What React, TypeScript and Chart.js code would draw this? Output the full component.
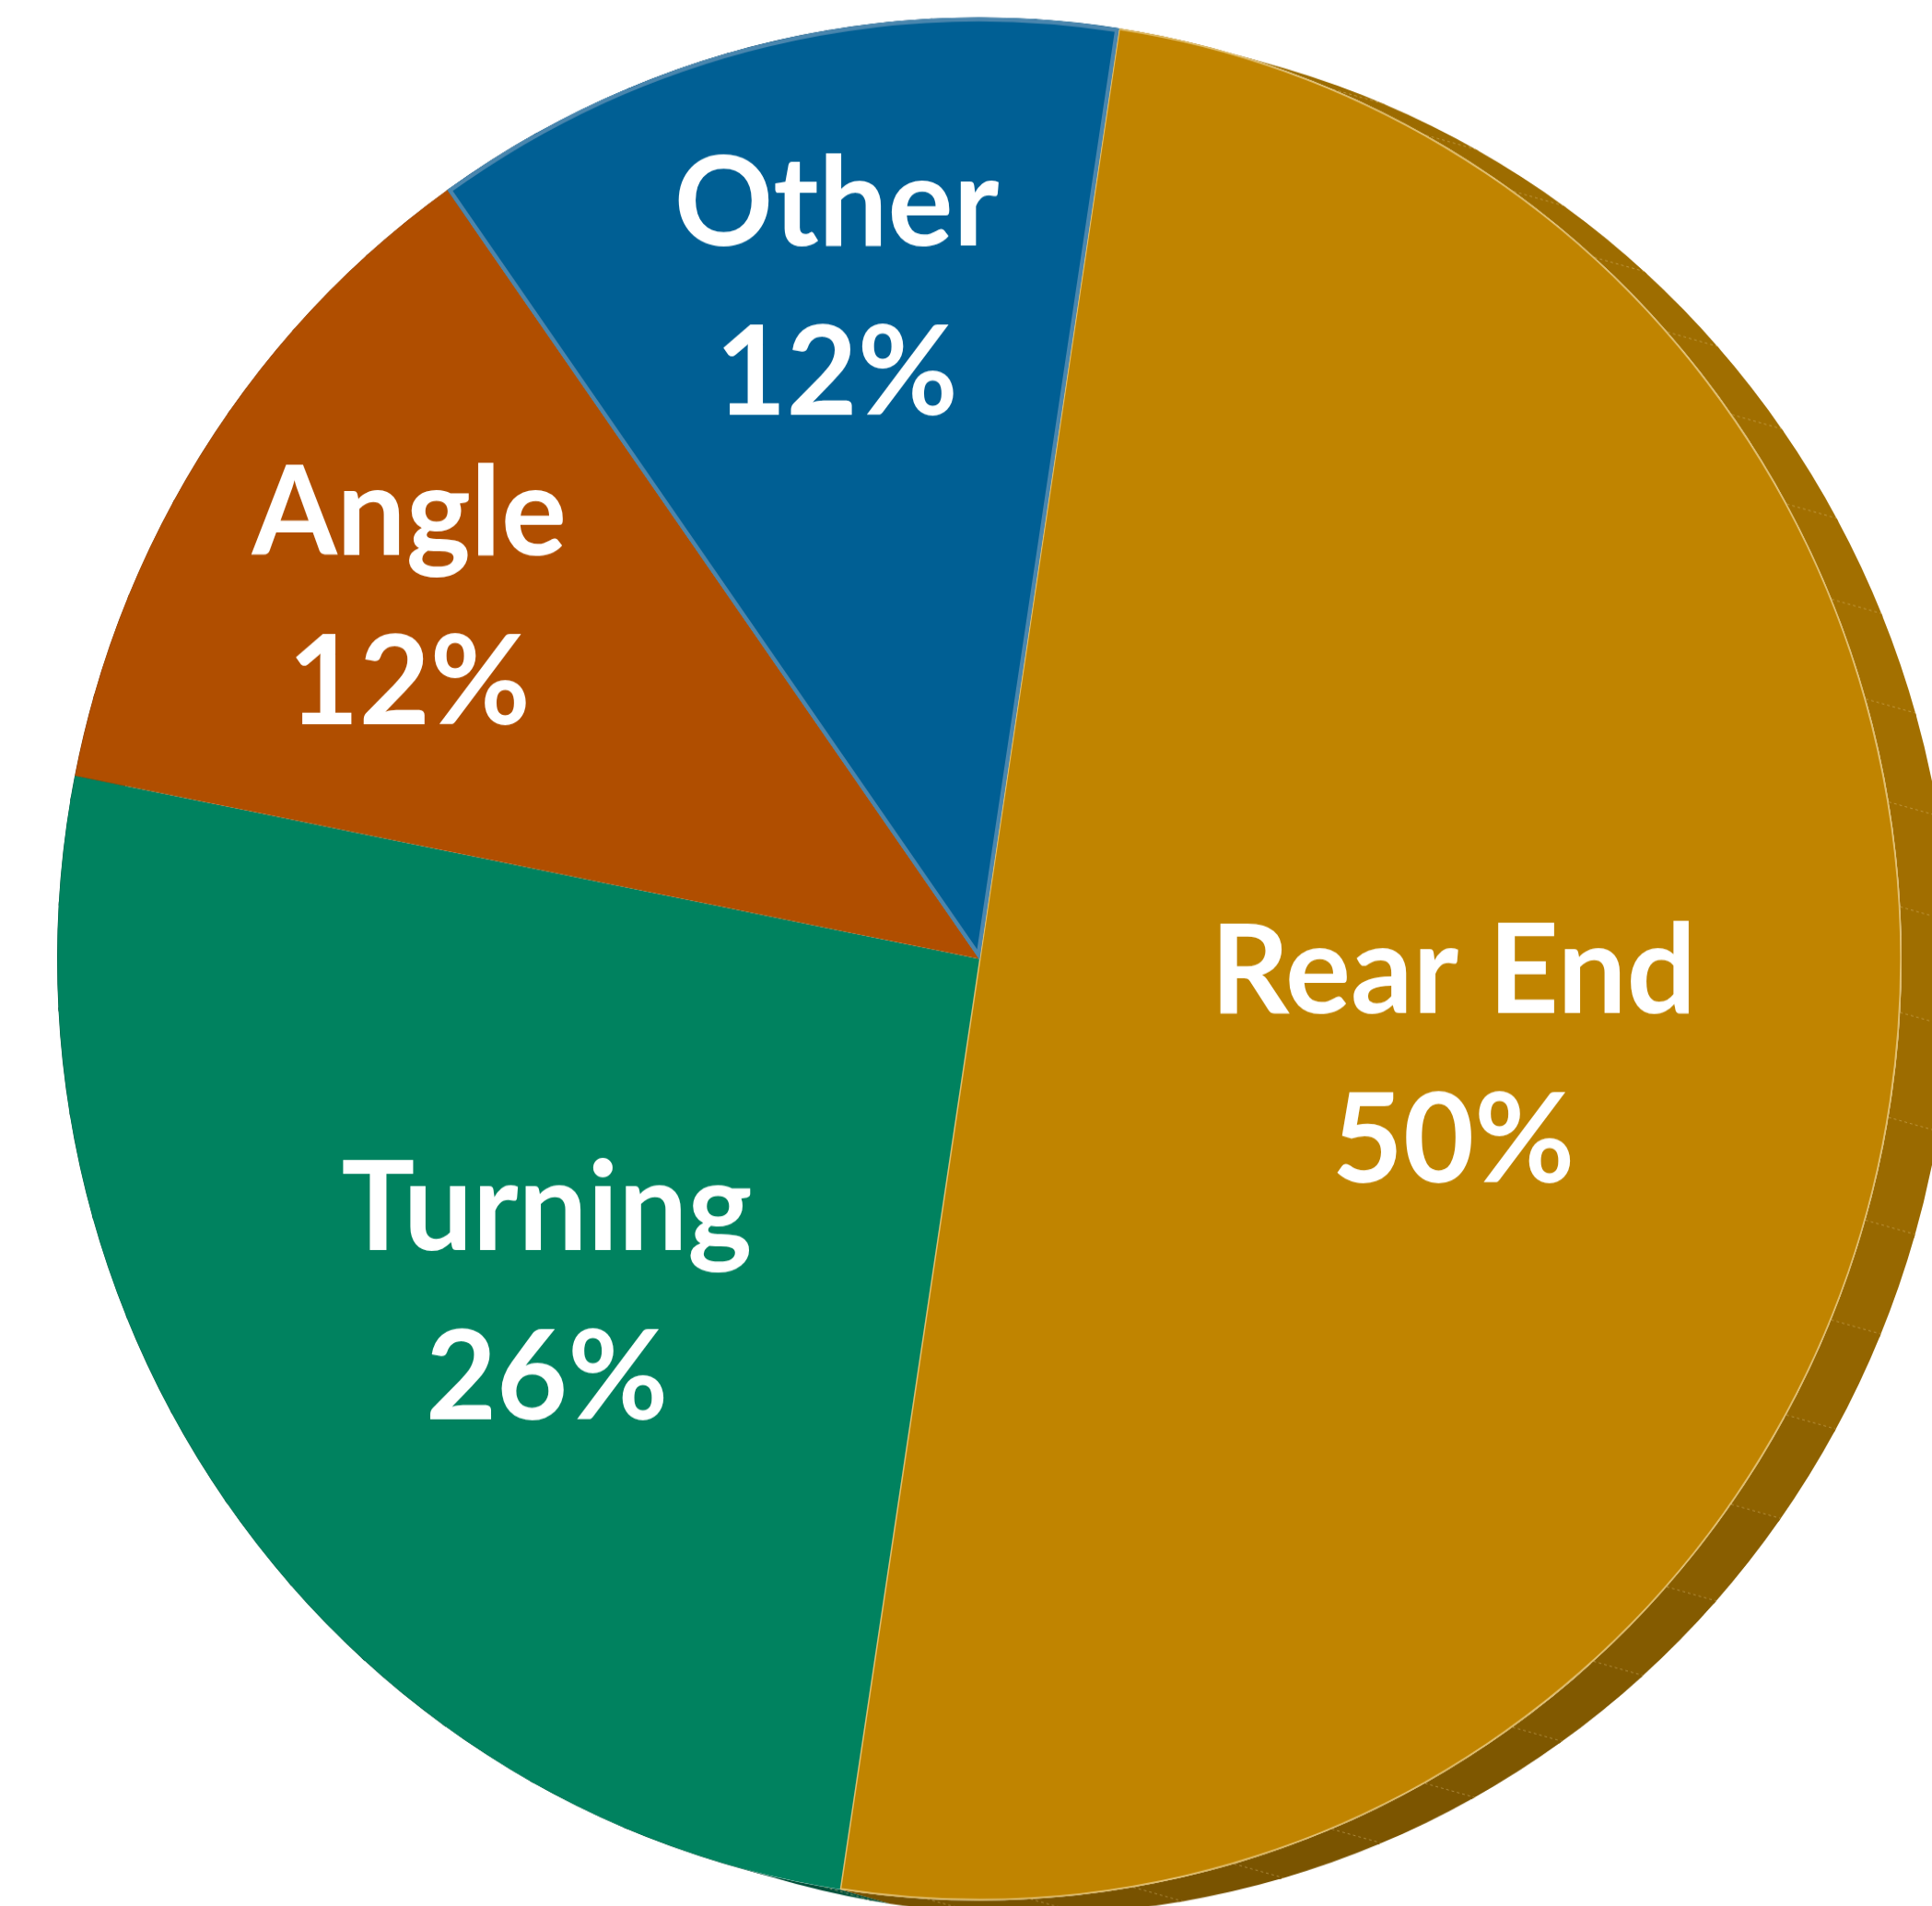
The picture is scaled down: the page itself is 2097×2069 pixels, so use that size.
import React, { useEffect, useRef } from "react";
import { Chart, registerables } from "chart.js";

Chart.register(...registerables);

// ---- data ----
const categories = ["Rear End", "Turning", "Angle", "Other"];
const shares = [50.0, 25.7, 12.1, 12.2];
const sliceColors = ["#C08400", "#00825F", "#B04E00", "#005F94"];
const sliceBorderColors = ["rgba(228,196,120,0.9)", "rgba(0,0,0,0)", "rgba(0,0,0,0)", "#4A86AE"];
const sliceBorderWidths = [1.5, 0, 0, 4];
const labelRadiusFractions = [0.5236, 0.586, 0.729, 0.732];
const labelAngleOffsets = [2.3, -1.8, -1.0, 1.05];

const W = 2097;
const H = 2069;
const SY = 1.021; // slight vertical stretch of the tilted pie face

function hexToRgb(hex: string) {
  const h = hex.replace("#", "");
  return [parseInt(h.slice(0, 2), 16), parseInt(h.slice(2, 4), 16), parseInt(h.slice(4, 6), 16)];
}
function shade(hex: string, f: number) {
  const [r, g, b] = hexToRgb(hex);
  return `rgb(${Math.round(r * f)},${Math.round(g * f)},${Math.round(b * f)})`;
}
// lighting of the extruded side, by angle clockwise from top (deg)
const lightStops: [number, number][] = [
  [0, 0.8], [40, 0.82], [70, 0.85], [90, 0.83], [105, 0.8], [120, 0.75],
  [135, 0.69], [150, 0.65], [170, 0.625], [200, 0.61], [360, 0.61],
];
function lightFactor(deg: number) {
  const d = ((deg % 360) + 360) % 360;
  for (let i = 0; i < lightStops.length - 1; i++) {
    const [a0, f0] = lightStops[i];
    const [a1, f1] = lightStops[i + 1];
    if (d >= a0 && d <= a1) return f0 + ((f1 - f0) * (d - a0)) / (a1 - a0);
  }
  return 0.7;
}

const extrusionPlugin = {
  id: "extrusion",
  beforeDatasetsDraw(chart: any, _args: any, opts: any) {
    const meta = chart.getDatasetMeta(0);
    const ctx = chart.ctx as CanvasRenderingContext2D;
    const dx = opts.dx, dy = opts.dy;
    const step = (2 * Math.PI) / opts.facets;
    const a0 = ((opts.facetStart - 90) * Math.PI) / 180;
    const colors = chart.data.datasets[0].backgroundColor;
    ctx.save();
    let cx = 0, cy = 0, r = 0;
    meta.data.forEach((arc: any, i: number) => {
      const p = arc.getProps(["x", "y", "startAngle", "endAngle", "outerRadius"], true);
      cx = p.x; cy = p.y; r = p.outerRadius;
      let a = p.startAngle;
      while (a < p.endAngle - 1e-7) {
        const k = Math.floor((a - a0) / step + 1e-9) + 1;
        const next = a0 + k * step;
        const b = Math.min(next, p.endAngle);
        const bb = b < p.endAngle ? b + 0.004 : b;
        const mid = (a + b) / 2;
        const deg = (mid * 180) / Math.PI + 90;
        ctx.beginPath();
        ctx.arc(cx, cy, r, a, bb);
        ctx.lineTo(cx + dx + r * Math.cos(bb), cy + dy + r * Math.sin(bb));
        ctx.arc(cx + dx, cy + dy, r, bb, a, true);
        ctx.closePath();
        ctx.fillStyle = shade(colors[i], lightFactor(deg));
        ctx.fill();
        a = b;
      }
    });
    // faint facet seams, one per facet boundary
    ctx.strokeStyle = "rgba(235,205,140,0.4)";
    ctx.lineWidth = 1;
    ctx.setLineDash([3, 3]);
    for (let k = 0; k < opts.facets; k++) {
      const a = a0 + k * step;
      const nd = dx * Math.cos(a) + dy * Math.sin(a);
      if (nd <= 4) continue;
      const x1 = cx + r * Math.cos(a), y1 = cy + r * Math.sin(a);
      ctx.beginPath();
      ctx.moveTo(x1, y1);
      ctx.lineTo(x1 + dx, y1 + dy);
      ctx.stroke();
    }
    ctx.restore();
  },
};

const sliceLabelPlugin = {
  id: "sliceLabels",
  afterDatasetsDraw(chart: any, _args: any, opts: any) {
    const meta = chart.getDatasetMeta(0);
    const ctx = chart.ctx as CanvasRenderingContext2D;
    const data: number[] = chart.data.datasets[0].data;
    const total = data.reduce((s, v) => s + v, 0);
    const size = opts.size;
    const cap = 0.717 * size;
    const gap = opts.lineGap;
    ctx.save();
    ctx.fillStyle = "#FFFFFF";
    ctx.textAlign = "center";
    ctx.textBaseline = "alphabetic";
    ctx.font = `bold ${size}px Lato, "Open Sans", sans-serif`;
    meta.data.forEach((arc: any, i: number) => {
      const p = arc.getProps(["x", "y", "startAngle", "endAngle", "outerRadius"], true);
      const mid = (p.startAngle + p.endAngle) / 2 + (labelAngleOffsets[i] * Math.PI) / 180;
      const rr = p.outerRadius * labelRadiusFractions[i];
      const lx = p.x + rr * Math.cos(mid);
      const ly = p.y + rr * Math.sin(mid);
      const pct = Math.round((data[i] / total) * 100) + "%";
      ctx.fillText(chart.data.labels[i], lx, ly - gap / 2 + cap / 2);
      ctx.fillText(pct, lx, ly + gap / 2 + cap / 2);
    });
    ctx.restore();
  },
};

export default function App() {
  const ref = useRef<HTMLCanvasElement | null>(null);
  useEffect(() => {
    if (!ref.current) return;
    const chart = new Chart(ref.current, {
      type: "pie",
      data: {
        labels: categories,
        datasets: [
          {
            data: shares,
            backgroundColor: sliceColors,
            borderColor: sliceBorderColors,
            borderWidth: sliceBorderWidths,
            borderAlign: "inner",
            hoverOffset: 0,
            offset: 0,
          } as any,
        ],
      },
      options: {
        responsive: false,
        animation: false,
        devicePixelRatio: 1,
        rotation: 8.7,
        radius: 1001,
        events: [],
        layout: { padding: { left: 29, right: 0, top: 0, bottom: 30 } },
        plugins: {
          legend: { display: false },
          tooltip: { enabled: false },
          extrusion: { dx: 54, dy: 15, facets: 56, facetStart: 80.4 },
          sliceLabels: { size: 133, lineGap: 180 },
        } as any,
      },
      plugins: [extrusionPlugin, sliceLabelPlugin],
    });
    return () => chart.destroy();
  }, []);
  return (
    <div style={{ position: "fixed", left: 0, top: 0, width: W, height: H, overflow: "hidden", background: "#FFFFFF" }}>
      <div style={{ width: W, height: H, transform: `scaleY(${SY})`, transformOrigin: "0 0" }}>
        <canvas ref={ref} width={W} height={H} style={{ display: "block", width: W, height: H }} />
      </div>
    </div>
  );
}
